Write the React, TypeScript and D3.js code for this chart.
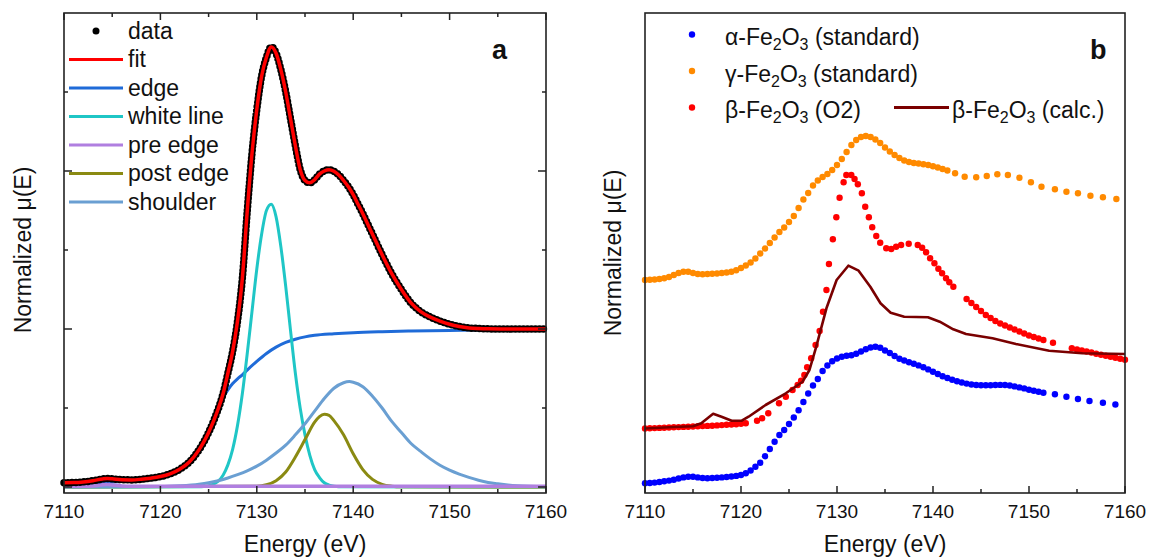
import React from "react";
import * as d3 from "d3";

// ---------------- Panel a: fit of beta-Fe2O3 XANES ----------------
const fitE = [7110, 7111, 7112, 7113, 7114, 7114.5, 7115, 7116, 7117, 7118, 7119, 7120, 7121, 7122, 7123, 7124, 7124.5, 7125, 7125.5, 7126, 7126.5, 7127, 7127.5, 7128, 7128.5, 7129, 7129.5, 7130, 7130.5, 7131, 7131.5, 7132, 7132.5, 7133, 7133.5, 7134, 7134.5, 7135, 7135.5, 7136, 7136.5, 7137, 7137.5, 7138, 7138.5, 7139, 7139.5, 7140, 7140.5, 7141, 7141.5, 7142, 7143, 7144, 7145, 7146, 7147, 7148, 7149, 7150, 7151, 7152, 7153, 7154, 7156, 7158, 7160];
const dataMu = [0.027, 0.028, 0.032, 0.040, 0.051, 0.054, 0.052, 0.046, 0.045, 0.049, 0.056, 0.066, 0.083, 0.112, 0.158, 0.235, 0.285, 0.345, 0.415, 0.495, 0.59, 0.72, 0.86, 1.05, 1.32, 1.74, 2.11, 2.39, 2.60, 2.72, 2.785, 2.745, 2.64, 2.50, 2.33, 2.16, 2.01, 1.94, 1.925, 1.945, 1.98, 2.0, 2.008, 1.998, 1.975, 1.94, 1.90, 1.85, 1.79, 1.73, 1.665, 1.60, 1.47, 1.35, 1.25, 1.165, 1.11, 1.075, 1.05, 1.03, 1.016, 1.007, 1.003, 1.001, 1.0, 1.0, 1.0];
const fitMu = [0.027, 0.028, 0.032, 0.040, 0.051, 0.054, 0.052, 0.046, 0.045, 0.049, 0.056, 0.066, 0.083, 0.112, 0.158, 0.235, 0.285, 0.345, 0.415, 0.495, 0.59, 0.72, 0.86, 1.05, 1.32, 1.74, 2.11, 2.39, 2.60, 2.72, 2.785, 2.745, 2.64, 2.50, 2.33, 2.16, 2.01, 1.94, 1.925, 1.945, 1.98, 2.0, 2.008, 1.998, 1.975, 1.94, 1.90, 1.85, 1.79, 1.73, 1.665, 1.60, 1.47, 1.35, 1.25, 1.165, 1.11, 1.075, 1.05, 1.03, 1.016, 1.007, 1.003, 1.001, 1.0, 1.0, 1.0];

const edgeE = [7110, 7112, 7114, 7116, 7118, 7120, 7121, 7122, 7123, 7124, 7124.5, 7125, 7125.5, 7126, 7126.5, 7127, 7127.5, 7128, 7128.5, 7129, 7130, 7131, 7132, 7133, 7134, 7135, 7136, 7138, 7140, 7143, 7146, 7150, 7155, 7160];
const edgeMu = [0.018, 0.022, 0.027, 0.034, 0.045, 0.062, 0.078, 0.105, 0.15, 0.23, 0.29, 0.36, 0.43, 0.50, 0.565, 0.615, 0.655, 0.685, 0.71, 0.74, 0.795, 0.845, 0.885, 0.915, 0.935, 0.95, 0.96, 0.97, 0.977, 0.983, 0.987, 0.991, 0.996, 1.0];

const whiteE = [7110, 7124, 7124.5, 7125, 7125.5, 7126, 7126.5, 7127, 7127.5, 7128, 7128.5, 7129, 7129.5, 7130, 7130.5, 7131, 7131.5, 7132, 7132.5, 7133, 7133.5, 7134, 7134.5, 7135, 7135.5, 7136, 7136.5, 7137, 7137.5, 7138, 7139, 7160];
const whiteMu = [0, 0.001, 0.003, 0.008, 0.018, 0.037, 0.075, 0.14, 0.24, 0.39, 0.59, 0.84, 1.11, 1.38, 1.60, 1.75, 1.79, 1.71, 1.52, 1.27, 0.99, 0.72, 0.50, 0.33, 0.20, 0.11, 0.06, 0.027, 0.012, 0.005, 0.001, 0];

const preE = [7110, 7112, 7113, 7113.5, 7114, 7114.5, 7115, 7115.5, 7116, 7117, 7120, 7130, 7140, 7150, 7160];
const preMu = [0.005, 0.005, 0.007, 0.010, 0.014, 0.016, 0.013, 0.010, 0.007, 0.005, 0.005, 0.005, 0.005, 0.005, 0.005];

const postE = [7110, 7130, 7131, 7132, 7133, 7134, 7135, 7136, 7136.5, 7137, 7137.5, 7138, 7139, 7140, 7141, 7142, 7143, 7144, 7145, 7160];
const postMu = [0, 0.005, 0.014, 0.04, 0.095, 0.19, 0.30, 0.41, 0.445, 0.46, 0.453, 0.42, 0.33, 0.21, 0.11, 0.048, 0.017, 0.005, 0.001, 0];

const shoulderE = [7110, 7120, 7122, 7124, 7125, 7126, 7127, 7128, 7129, 7130, 7131, 7132, 7133, 7134, 7135, 7136, 7137, 7138, 7139, 7139.6, 7140, 7141, 7142, 7143, 7144, 7145, 7146, 7147, 7148, 7149, 7150, 7151, 7152, 7153, 7154, 7155, 7157, 7160];
const shoulderMu = [0, 0.003, 0.008, 0.018, 0.027, 0.04, 0.057, 0.078, 0.102, 0.132, 0.17, 0.215, 0.265, 0.33, 0.40, 0.48, 0.56, 0.625, 0.66, 0.667, 0.663, 0.635, 0.575, 0.50, 0.415, 0.345, 0.275, 0.225, 0.178, 0.138, 0.107, 0.082, 0.061, 0.043, 0.029, 0.02, 0.008, 0.002];

const xMajor = [7110, 7120, 7130, 7140, 7150, 7160];
const xMinor = [7115, 7125, 7135, 7145, 7155];
const yMajorA = [0, 1, 2];
const yMinorA = [0.5, 1.5, 2.5];

// ---------------- Panel b: references and beta-Fe2O3 ----------------
const alphaDenseE = d3.range(7110, 7151.51, 0.5);
const alphaDenseMu = [
  0.097, 0.100, 0.104, 0.110, 0.117, 0.124, 0.133, 0.145, 0.156, 0.162,
  0.162, 0.156, 0.150, 0.148, 0.150, 0.153, 0.156, 0.160, 0.165, 0.171,
  0.180, 0.198, 0.225, 0.262, 0.303, 0.368, 0.440, 0.512, 0.580, 0.630,
  0.690, 0.755, 0.828, 0.910, 0.995, 1.075, 1.140, 1.220, 1.275, 1.318,
  1.345, 1.362, 1.372, 1.378, 1.392, 1.415, 1.438, 1.455, 1.462, 1.452,
  1.425, 1.400, 1.370, 1.343, 1.325, 1.308, 1.292, 1.276, 1.258, 1.236,
  1.212, 1.190, 1.168, 1.150, 1.133, 1.118, 1.105, 1.094, 1.085, 1.080,
  1.078, 1.077, 1.078, 1.080, 1.081, 1.080, 1.075, 1.066, 1.056, 1.046,
  1.033, 1.022, 1.012, 1.003,
];
const alphaSparseE = [7152.7, 7153.9, 7155.1, 7156.3, 7157.7, 7159.0];
const alphaSparseMu = [0.987, 0.963, 0.94, 0.92, 0.903, 0.885];

const gammaDenseE = d3.range(7110, 7141.51, 0.5);
const gammaDenseMu = [
  2.130, 2.132, 2.135, 2.140, 2.147, 2.160, 2.180, 2.200, 2.212, 2.212,
  2.200, 2.190, 2.188, 2.190, 2.192, 2.195, 2.200, 2.205, 2.213, 2.228,
  2.250, 2.275, 2.305, 2.345, 2.395, 2.445, 2.500, 2.555, 2.610, 2.655,
  2.710, 2.770, 2.850, 2.935, 3.000, 3.075, 3.125, 3.160, 3.190, 3.230,
  3.280, 3.340, 3.410, 3.480, 3.530, 3.560, 3.570, 3.560, 3.535, 3.500,
  3.455, 3.415, 3.380, 3.350, 3.325, 3.310, 3.300, 3.295, 3.288, 3.280,
  3.268, 3.255, 3.240, 3.225,
];
const gammaSparseE = [7142.3, 7143.3, 7144.5, 7145.6, 7146.7, 7147.8, 7149.0, 7150.2, 7151.3, 7152.7, 7153.9, 7155.1, 7156.4, 7157.7, 7159.1];
const gammaSparseMu = [3.197, 3.163, 3.157, 3.17, 3.187, 3.18, 3.153, 3.107, 3.063, 3.037, 3.013, 2.997, 2.973, 2.957, 2.94];

const betaLowE = d3.range(7110, 7120.51, 0.5);
const betaLowMu = [0.645, 0.647, 0.649, 0.651, 0.653, 0.655, 0.657, 0.659, 0.661, 0.663, 0.665, 0.667, 0.669, 0.671, 0.673, 0.676, 0.679, 0.682, 0.685, 0.688, 0.692, 0.697];
const betaEdgeE = [7121.67, 7122.2, 7122.84, 7123.96, 7124.67, 7125.37, 7125.9, 7126.26, 7126.6, 7126.89, 7127.31, 7127.77, 7128.19, 7128.54, 7128.9, 7129.16, 7129.57, 7129.93, 7130.27, 7130.69, 7130.97, 7131.49, 7131.83, 7132.17, 7132.59, 7132.94, 7133.32, 7133.67, 7134.09, 7134.5, 7135.13, 7135.65, 7136.16, 7136.68, 7137.47, 7138.41, 7138.87, 7139.28, 7139.7, 7140.15, 7140.56, 7140.95, 7141.36, 7141.7, 7142.12];
const betaEdgeMu = [0.723, 0.747, 0.797, 0.897, 0.963, 1.03, 1.08, 1.123, 1.18, 1.257, 1.347, 1.48, 1.62, 1.813, 2.03, 2.29, 2.537, 2.757, 2.953, 3.107, 3.18, 3.18, 3.14, 3.087, 2.997, 2.863, 2.757, 2.657, 2.57, 2.503, 2.447, 2.44, 2.463, 2.48, 2.493, 2.48, 2.453, 2.407, 2.347, 2.297, 2.243, 2.197, 2.147, 2.107, 2.063];
const betaPostE = d3.range(7143.5, 7151.51, 0.5);
const betaPostMu = [1.94, 1.90, 1.86, 1.82, 1.78, 1.75, 1.72, 1.695, 1.675, 1.655, 1.635, 1.615, 1.595, 1.575, 1.56, 1.545, 1.53];
const betaIsoE = [7152.5, 7154.46];
const betaIsoMu = [1.503, 1.447];
const betaTailE = d3.range(7155, 7160.01, 0.5);
const betaTailMu = [1.435, 1.425, 1.415, 1.405, 1.393, 1.383, 1.372, 1.362, 1.352, 1.342, 1.332];

const calcE = [7110, 7113, 7115, 7115.86, 7117.1, 7117.97, 7119.03, 7120.08, 7120.79, 7122.56, 7124.67, 7126.42, 7127.13, 7127.84, 7128.9, 7129.96, 7131.18, 7132.25, 7133.47, 7134.53, 7135.59, 7137.0, 7139.47, 7140.7, 7142.11, 7143.44, 7146.2, 7148.64, 7152.1, 7155.56, 7160];
const calcMu = [0.645, 0.66, 0.667, 0.697, 0.792, 0.763, 0.723, 0.723, 0.763, 0.88, 0.997, 1.113, 1.23, 1.463, 1.847, 2.13, 2.273, 2.223, 2.063, 1.897, 1.803, 1.763, 1.757, 1.713, 1.637, 1.59, 1.547, 1.49, 1.423, 1.397, 1.39];

const legendA = ["data", "fit", "edge", "white line", "pre edge", "post edge", "shoulder"];
const colorsA = ["#000000", "#ff0000", "#1f6bd8", "#1fc6c6", "#b07fe0", "#8a8a12", "#6a9fd2"];

const C_ALPHA = "#0000ff";
const C_GAMMA = "#ff8a00";
const C_BETA = "#ff0000";
const C_CALC = "#7a0000";

const FONT = "'Liberation Sans', Arial, Helvetica, sans-serif";

const zip = (e: number[], m: number[]) => e.map((v, i) => [v, m[i]] as [number, number]);

function Sub({ s }: { s: string }) {
  return (
    <tspan fontSize={16} dy={5}>
      {s}
    </tspan>
  );
}

function FeLabel({ x, y, greek, tail }: { x: number; y: number; greek: string; tail: string }) {
  return (
    <text x={x} y={y} fontFamily={FONT} fontSize={23} fill="#111" style={{ whiteSpace: "pre" }}>
      <tspan>{greek + "-Fe"}</tspan>
      <Sub s="2" />
      <tspan dy={-5}>O</tspan>
      <Sub s="3" />
      <tspan dy={-5}>{" " + tail}</tspan>
    </text>
  );
}

export default function App() {
  const ax = { l: 64, r: 546, t: 13, b: 493 };
  const bx = { l: 645, r: 1125, t: 13, b: 493 };

  const xa = d3.scaleLinear().domain([7110, 7160]).range([ax.l, ax.r]);
  const ya = d3.scaleLinear().domain([0, 1]).range([487, 329]);
  const xb = d3.scaleLinear().domain([7110, 7160]).range([bx.l, bx.r]);
  const yb = d3.scaleLinear().domain([0, 1]).range([493, 393]);

  const lineA = d3
    .line<[number, number]>()
    .x((d) => xa(d[0]))
    .y((d) => ya(d[1]))
    .curve(d3.curveMonotoneX);
  const lineB = d3
    .line<[number, number]>()
    .x((d) => xb(d[0]))
    .y((d) => yb(d[1]))
    .curve(d3.curveLinear);

  const compsA: { pts: [number, number][]; color: string; w: number }[] = [
    { pts: zip(edgeE, edgeMu), color: colorsA[2], w: 3 },
    { pts: zip(whiteE, whiteMu), color: colorsA[3], w: 3 },
    { pts: zip(postE, postMu), color: colorsA[5], w: 3 },
    { pts: zip(shoulderE, shoulderMu), color: colorsA[6], w: 3 },
    { pts: zip(preE, preMu), color: colorsA[4], w: 3.5 },
  ];

  const dotsB: { pts: [number, number][]; color: string }[] = [
    { pts: zip(gammaDenseE, gammaDenseMu), color: C_GAMMA },
    { pts: zip(gammaSparseE, gammaSparseMu), color: C_GAMMA },
    { pts: zip(betaLowE, betaLowMu), color: C_BETA },
    { pts: zip(betaEdgeE, betaEdgeMu), color: C_BETA },
    { pts: zip(betaPostE, betaPostMu), color: C_BETA },
    { pts: zip(betaIsoE, betaIsoMu), color: C_BETA },
    { pts: zip(betaTailE, betaTailMu), color: C_BETA },
    { pts: zip(alphaDenseE, alphaDenseMu), color: C_ALPHA },
    { pts: zip(alphaSparseE, alphaSparseMu), color: C_ALPHA },
  ];

  const frame = "#222";

  return (
    <svg
      width={1149}
      height={559}
      style={{ position: "absolute", left: 0, top: 0, background: "#fff" }}
      fontFamily={FONT}
    >
      <rect x={0} y={0} width={1149} height={559} fill="#fff" />

      {/* ---------- Panel a ---------- */}
      <g>
        {compsA.map((c, i) => (
          <path key={i} d={lineA(c.pts) || ""} fill="none" stroke={c.color} strokeWidth={c.w} strokeLinejoin="round" />
        ))}
        <path
          d={lineA(zip(fitE, dataMu)) || ""}
          fill="none"
          stroke="#000"
          strokeWidth={7.5}
          strokeLinecap="round"
          strokeDasharray="0 4"
        />
        <path d={lineA(zip(fitE, fitMu)) || ""} fill="none" stroke="#ff0000" strokeWidth={3.5} strokeLinejoin="round" />

        {/* frame and ticks */}
        <rect x={ax.l} y={ax.t} width={ax.r - ax.l} height={ax.b - ax.t} fill="none" stroke={frame} strokeWidth={1.6} />
        {xMajor.map((t) => (
          <g key={"am" + t}>
            <line x1={xa(t)} x2={xa(t)} y1={ax.b} y2={ax.b - 7} stroke={frame} strokeWidth={1.5} />
            <line x1={xa(t)} x2={xa(t)} y1={ax.t} y2={ax.t + 7} stroke={frame} strokeWidth={1.5} />
            <text x={xa(t)} y={518} textAnchor="middle" fontSize={19} fill="#111">
              {t}
            </text>
          </g>
        ))}
        {xMinor.map((t) => (
          <g key={"an" + t}>
            <line x1={xa(t)} x2={xa(t)} y1={ax.b} y2={ax.b - 4} stroke={frame} strokeWidth={1.5} />
            <line x1={xa(t)} x2={xa(t)} y1={ax.t} y2={ax.t + 4} stroke={frame} strokeWidth={1.5} />
          </g>
        ))}
        {yMajorA.map((t) => (
          <g key={"aym" + t}>
            <line x1={ax.l} x2={ax.l + 8} y1={ya(t)} y2={ya(t)} stroke={frame} strokeWidth={1.5} />
            <line x1={ax.r} x2={ax.r - 8} y1={ya(t)} y2={ya(t)} stroke={frame} strokeWidth={1.5} />
          </g>
        ))}
        {yMinorA.map((t) => (
          <g key={"ayn" + t}>
            <line x1={ax.l} x2={ax.l + 4} y1={ya(t)} y2={ya(t)} stroke={frame} strokeWidth={1.5} />
            <line x1={ax.r} x2={ax.r - 4} y1={ya(t)} y2={ya(t)} stroke={frame} strokeWidth={1.5} />
          </g>
        ))}
        <text x={(ax.l + ax.r) / 2} y={552} textAnchor="middle" fontSize={23} fill="#111">
          Energy (eV)
        </text>
        <text transform={`translate(31,250) rotate(-90)`} textAnchor="middle" fontSize={23} fill="#111">
          Normalized μ(E)
        </text>
        <text x={492} y={59} fontSize={27} fontWeight="bold" fill="#111">
          a
        </text>

        {/* legend a */}
        {legendA.map((name, i) => {
          const y = 31 + i * 28.5;
          return (
            <g key={name}>
              {i === 0 ? (
                <circle cx={96} cy={y} r={3.5} fill="#000" />
              ) : (
                <line x1={69} x2={123} y1={y} y2={y} stroke={colorsA[i]} strokeWidth={3} />
              )}
              <text x={128} y={y + 7.5} fontSize={23} fill="#111">
                {name}
              </text>
            </g>
          );
        })}
      </g>

      {/* ---------- Panel b ---------- */}
      <g>
        {dotsB.map((s, i) => (
          <g key={i}>
            {s.pts.map((p, j) => (
              <circle key={j} cx={xb(p[0])} cy={yb(p[1])} r={3.2} fill={s.color} />
            ))}
          </g>
        ))}
        <path d={lineB(zip(calcE, calcMu)) || ""} fill="none" stroke={C_CALC} strokeWidth={2.6} strokeLinejoin="round" />

        <rect x={bx.l} y={bx.t} width={bx.r - bx.l} height={bx.b - bx.t} fill="none" stroke={frame} strokeWidth={1.6} />
        {xMajor.map((t) => (
          <g key={"bm" + t}>
            <line x1={xb(t)} x2={xb(t)} y1={bx.b} y2={bx.b - 7} stroke={frame} strokeWidth={1.5} />
            <text x={xb(t)} y={518} textAnchor="middle" fontSize={19} fill="#111">
              {t}
            </text>
          </g>
        ))}
        {xMinor.map((t) => (
          <line key={"bn" + t} x1={xb(t)} x2={xb(t)} y1={bx.b} y2={bx.b - 4} stroke={frame} strokeWidth={1.5} />
        ))}
        <text x={(bx.l + bx.r) / 2} y={552} textAnchor="middle" fontSize={23} fill="#111">
          Energy (eV)
        </text>
        <text transform={`translate(621,253) rotate(-90)`} textAnchor="middle" fontSize={23} fill="#111">
          Normalized μ(E)
        </text>
        <text x={1090} y={59} fontSize={27} fontWeight="bold" fill="#111">
          b
        </text>

        {/* legend b */}
        <circle cx={692} cy={34.5} r={3.2} fill={C_ALPHA} />
        <FeLabel x={725} y={45} greek="α" tail="(standard)" />
        <circle cx={692} cy={71} r={3.2} fill={C_GAMMA} />
        <FeLabel x={725} y={81.5} greek="γ" tail="(standard)" />
        <circle cx={692} cy={107.5} r={3.2} fill={C_BETA} />
        <FeLabel x={725} y={118} greek="β" tail="(O2)" />
        <line x1={894} x2={949} y1={107.5} y2={107.5} stroke={C_CALC} strokeWidth={3} />
        <FeLabel x={952} y={118} greek="β" tail="(calc.)" />
      </g>
    </svg>
  );
}
